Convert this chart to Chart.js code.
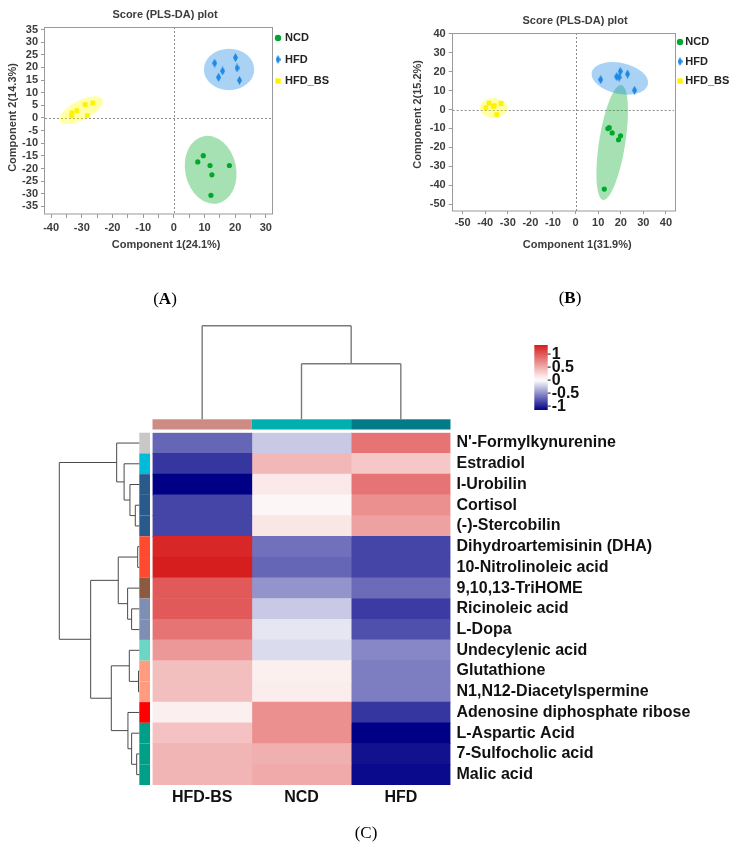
<!DOCTYPE html>
<html><head><meta charset="utf-8">
<script src="https://cdn.jsdelivr.net/npm/chart.js@4.4.1/dist/chart.umd.min.js"></script>
<style>
html,body{margin:0;padding:0;background:#fff;overflow:hidden}
body{width:735px;height:848px;position:relative}
canvas{position:absolute;display:block}
.lab{position:absolute;font-family:"Liberation Serif","Times New Roman",serif;font-size:17px;color:#000;transform:translate(-50%,-50%);white-space:nowrap;line-height:1}
</style></head><body>
<canvas id="cA" width="330" height="256" style="left:0;top:0;width:330px;height:256px"></canvas>
<canvas id="cB" width="340" height="255" style="left:405px;top:0;width:340px;height:255px"></canvas>
<canvas id="cC" width="735" height="588" style="left:0;top:260px;width:735px;height:588px"></canvas>
<div class="lab" style="left:165px;top:298px">(<b>A</b>)</div>
<div class="lab" style="left:570px;top:297px">(<b>B</b>)</div>
<div class="lab" style="left:366px;top:832px">(C)</div>
<script>
// ---------------- DATA ----------------
const groupNames = ['NCD', 'HFD', 'HFD_BS'];

// Panel A scores [component1, component2]
const scoreA_NCD    = [[7.8,-17.4],[9.6,-14.9],[11.8,-18.8],[12.4,-22.5],[18.1,-18.8],[12.1,-30.6]];
const scoreA_HFD    = [[13.3,21.7],[20.1,23.9],[15.9,18.6],[20.6,19.8],[14.6,16.1],[21.4,14.9]];
const scoreA_HFD_BS = [[-33.2,2.0],[-31.6,2.9],[-33.3,0.9],[-28.9,5.3],[-26.4,5.9],[-28.2,0.9]];
// Panel B scores
const scoreB_NCD    = [[14.3,-10.1],[14.9,-9.6],[16.2,-12.4],[19.9,-13.9],[19.0,-16.0],[12.7,-42.1]];
const scoreB_HFD    = [[11.1,15.8],[18.2,17.4],[19.8,20.2],[19.3,17.1],[23.0,18.8],[26.1,10.2]];
const scoreB_HFD_BS = [[-38.3,3.4],[-39.7,1.0],[-36.0,2.0],[-36.4,1.7],[-33.0,3.2],[-34.9,-2.7]];
// 95% confidence ellipses: [centre x, centre y, semi-axis x, semi-axis y, rotation deg]
const ellipseA = [[12.0,-20.5,8.3,13.6,-12],[18.0,19.2,8.2,8.2,0],[-30.2,3.1,7.8,3.8,-27]];
const ellipseB = [[16.2,-17.4,5.8,30.8,9],[19.6,16.5,12.7,8.2,12],[-36.3,0.8,6.05,5.25,0]];

// Panel C heatmap
const metabolites = ["N'-Formylkynurenine","Estradiol","I-Urobilin","Cortisol","(-)-Stercobilin",
  "Dihydroartemisinin (DHA)","10-Nitrolinoleic acid","9,10,13-TriHOME","Ricinoleic acid","L-Dopa",
  "Undecylenic acid","Glutathione","N1,N12-Diacetylspermine","Adenosine diphosphate ribose",
  "L-Aspartic Acid","7-Sulfocholic acid","Malic acid"];
const colGroups = ['HFD-BS', 'NCD', 'HFD'];
const zHFD_BS = [-0.60,-0.79,-1.00,-0.73,-0.73,0.96,1.00,0.74,0.74,0.62,0.46,0.29,0.29,0.07,0.27,0.33,0.33];
const zNCD    = [-0.21,0.32,0.10,0.04,0.11,-0.56,-0.60,-0.42,-0.21,-0.10,-0.14,0.07,0.08,0.50,0.50,0.35,0.38];
const zHFD    = [0.62,0.25,0.62,0.50,0.42,-0.73,-0.73,-0.58,-0.77,-0.69,-0.47,-0.51,-0.51,-0.79,-1.00,-0.93,-0.96];
// hierarchical clustering (negative = leaf number, positive = earlier merge), relative height
const rowMerges = [[-4,-5,0.05],[-3,1,0.117],[-2,2,0.19],[-1,3,0.283],[-6,-7,0.02],[-9,-10,0.096],
  [-8,6,0.146],[5,7,0.263],[-12,-13,0.01],[-11,9,0.125],[-16,-17,0.033],[-15,11,0.096],[-14,12,0.142],
  [10,13,0.35],[8,14,0.608],[4,15,1.0]];
const colMerges = [[-2,-3,0.594],[-1,1,1.0]];
const colorbarTicks = [1, 0.5, 0, -0.5, -1];

// ---------------- STYLE ----------------
Chart.defaults.font.family = '"Liberation Sans", Arial, Helvetica, sans-serif';
const pointColors = ['#00A82D', '#1E88E5', '#FFF200'];
const ellipseFills = ['rgba(0,170,40,0.35)', 'rgba(30,136,229,0.38)', 'rgba(255,255,0,0.35)'];
const rowAnnColors = ['#C8C8C8','#00BCD8','#2A5A8C','#2A5A8C','#2A5A8C','#FF4A30','#FF4A30','#8B5A40',
  '#7F8FB4','#7F8FB4','#6CD6C4','#FF9C80','#FF9C80','#FF0000','#00A088','#00A088','#00A088'];
const colAnnColors = ['#CD8B84', '#00B0B0', '#007B87'];

function diamondImg(w, h, color) {
  const c = document.createElement('canvas'); c.width = w; c.height = h;
  const g = c.getContext('2d'); g.fillStyle = color; g.beginPath();
  g.moveTo(w/2, 0); g.lineTo(w, h/2); g.lineTo(w/2, h); g.lineTo(0, h/2); g.closePath(); g.fill();
  return c;
}
const diamond = diamondImg(5, 9, pointColors[1]);
const pointStyles = ['circle', diamond, 'rect'];
const pointRadii = [2.6, 4, 3.4];
const legendRadii = [3.2, 4, 3.8];

function drawMarker(ctx, style, r, x, y, color) {
  ctx.fillStyle = color;
  if (typeof style === 'object') { ctx.drawImage(style, x - style.width/2, y - style.height/2); return; }
  ctx.beginPath();
  if (style === 'circle') ctx.arc(x, y, r, 0, Math.PI*2);
  else { const s = r * Math.SQRT1_2; ctx.rect(x - s, y - s, 2*s, 2*s); }
  ctx.fill();
}

const scatterDecor = {
  id: 'scatterDecor',
  beforeDatasetsDraw(chart, args, o) {
    const {ctx, chartArea: a, scales: {x, y}} = chart;
    ctx.save();
    ctx.beginPath(); ctx.rect(a.left, a.top, a.right - a.left, a.bottom - a.top); ctx.clip();
    ctx.strokeStyle = '#8c8c8c'; ctx.lineWidth = 1; ctx.setLineDash([2, 2]);
    const x0 = Math.round(x.getPixelForValue(0)) + 0.5, y0 = Math.round(y.getPixelForValue(0)) + 0.5;
    ctx.beginPath(); ctx.moveTo(x0, a.top); ctx.lineTo(x0, a.bottom); ctx.moveTo(a.left, y0); ctx.lineTo(a.right, y0); ctx.stroke();
    ctx.setLineDash([]);
    o.ellipses.forEach((e, i) => {
      const [cx, cy, rx, ry, rot] = e;
      const px = x.getPixelForValue(cx), py = y.getPixelForValue(cy);
      const prx = Math.abs(x.getPixelForValue(cx + rx) - px), pry = Math.abs(y.getPixelForValue(cy + ry) - py);
      ctx.fillStyle = ellipseFills[i];
      ctx.beginPath(); ctx.ellipse(px, py, prx, pry, rot * Math.PI / 180, 0, Math.PI * 2); ctx.fill();
    });
    ctx.restore();
  },
  afterDraw(chart, args, o) {
    const {ctx, chartArea: a} = chart;
    ctx.save();
    ctx.strokeStyle = '#9a9a9a'; ctx.lineWidth = 1;
    ctx.strokeRect(Math.round(a.left) - 0.5, Math.round(a.top) + 0.5, Math.round(a.right - a.left) + 1, Math.round(a.bottom - a.top) - 0.5);
    const L = o.legend;
    ctx.font = 'bold 11px "Liberation Sans", Arial, sans-serif';
    ctx.textBaseline = 'middle'; ctx.textAlign = 'left';
    chart.data.datasets.forEach((ds, i) => {
      const yy = a.top + L.y0 + i * L.dy;
      drawMarker(ctx, ds.pointStyle, legendRadii[i], a.right + L.mx, yy, ds.backgroundColor);
      ctx.fillStyle = '#222';
      ctx.fillText(ds.label, a.right + L.tx, yy);
    });
    ctx.restore();
  }
};

function makeScatter(id, sets, ellipses, c) {
  const axisFont = {size: 11, weight: 'bold'};
  const txt = '#3c3c3c';
  return new Chart(document.getElementById(id), {
    type: 'scatter',
    data: {datasets: sets.map((pts, i) => ({
      label: groupNames[i], data: pts.map(p => ({x: p[0], y: p[1]})),
      backgroundColor: pointColors[i], borderColor: pointColors[i], borderWidth: 0,
      pointStyle: pointStyles[i], pointRadius: pointRadii[i]
    }))},
    options: {
      responsive: false, animation: false, events: [],
      layout: {padding: 0},
      plugins: {
        legend: {display: false}, tooltip: {enabled: false},
        title: {display: true, text: 'Score (PLS-DA) plot', color: txt, font: {size: 11, weight: 'bold'},
                padding: {top: c.titleTop, bottom: c.titleBottom}},
        scatterDecor: {ellipses, legend: c.legend}
      },
      scales: {
        x: {type: 'linear', min: c.xMin, max: c.xMax, border: {display: false},
            grid: {drawOnChartArea: false, tickLength: c.xTl, color: '#9a9a9a'},
            ticks: {stepSize: c.xStep, includeBounds: false, autoSkip: false, maxRotation: 0, padding: c.xPad,
                    color: txt, font: axisFont, callback: v => (v % c.xLabelEvery === 0 ? String(v) : '')},
            title: {display: true, text: '\u00A0'.repeat(c.xShift) + c.xTitle, color: txt, font: axisFont,
                    padding: {top: 0, bottom: c.xTitleBottom}},
            afterFit: s => { s.height = c.xHeight; }},
        y: {type: 'linear', min: c.yMin, max: c.yMax, border: {display: false},
            grid: {drawOnChartArea: false, tickLength: 4, color: '#9a9a9a'},
            ticks: {stepSize: c.yStep, includeBounds: false, autoSkip: false, padding: 3, color: txt, font: axisFont,
                    callback: v => String(v)},
            title: {display: true, text: '\u00A0'.repeat(c.yShift) + c.yTitle, color: txt, font: axisFont,
                    padding: {top: c.yTitlePad, bottom: 0}},
            afterFit: s => { s.width = c.yWidth; }},
        y2: {type: 'linear', position: 'right', display: true, grid: {display: false}, border: {display: false},
             ticks: {display: false}, afterFit: s => { s.width = c.rightSpace; }}
      }
    },
    plugins: [scatterDecor]
  });
}

makeScatter('cA', [scoreA_NCD, scoreA_HFD, scoreA_HFD_BS], ellipseA, {
  titleTop: 8.4, titleBottom: 5.4,
  xMin: -42, xMax: 32, xStep: 5, xLabelEvery: 10, xTl: 4, xPad: 3.5, xHeight: 42, xTitleBottom: 4.4,
  xTitle: 'Component 1(24.1%)', xShift: 5,
  yMin: -38, yMax: 36, yStep: 5, yWidth: 45, yTitle: 'Component 2(14.3%)', yShift: 2, yTitlePad: 6.4,
  rightSpace: 58, legend: {mx: 6, tx: 13, y0: 11, dy: 21.5}
});
makeScatter('cB', [scoreB_NCD, scoreB_HFD, scoreB_HFD_BS], ellipseB, {
  titleTop: 14.4, titleBottom: 5.4,
  xMin: -54.4, xMax: 43.7, xStep: 10, xLabelEvery: 10, xTl: 3, xPad: 2, xHeight: 44, xTitleBottom: 3.9,
  xTitle: 'Component 1(31.9%)', xShift: 9,
  yMin: -53.7, yMax: 40.5, yStep: 10, yWidth: 47.7, yTitle: 'Component 2(15.2%)', yShift: 5, yTitlePad: 6.7,
  rightSpace: 70.7, legend: {mx: 5.7, tx: 11, y0: 9, dy: 19.5}
});

// ---------------- HEATMAP ----------------
const RED = [215, 30, 30], NAVY = [0, 0, 135];
function heatColor(v) {
  const t = Math.max(-1, Math.min(1, v));
  const end = t >= 0 ? RED : NAVY, k = Math.abs(t);
  const c = end.map(e => Math.round(255 + (e - 255) * k));
  return `rgb(${c[0]},${c[1]},${c[2]})`;
}
function drawDendro(ctx, merges, leafPos, hPix, vertical) {
  const nodes = [];
  const get = k => (k < 0 ? {p: leafPos(-k - 1), h: 0} : nodes[k - 1]);
  ctx.beginPath();
  merges.forEach(([m1, m2, h]) => {
    const A = get(m1), B = get(m2), hp = hPix(h);
    [A, B].forEach(N => {
      const s = hPix(N.h);
      if (vertical) { ctx.moveTo(N.p, s); ctx.lineTo(N.p, hp); } else { ctx.moveTo(s, N.p); ctx.lineTo(hp, N.p); }
    });
    if (vertical) { ctx.moveTo(A.p, hp); ctx.lineTo(B.p, hp); } else { ctx.moveTo(hp, A.p); ctx.lineTo(hp, B.p); }
    nodes.push({p: (A.p + B.p) / 2, h});
  });
  ctx.stroke();
}
const heatDecor = {
  id: 'heatDecor',
  afterDatasetsDraw(chart, args, o) {
    const {ctx, chartArea: a, scales: {x, y}} = chart;
    const rowH = (a.bottom - a.top) / metabolites.length;
    ctx.save();
    const annTop = a.top - o.colAnnGap - o.colAnnH;
    colGroups.forEach((g, j) => {
      const l = x.getPixelForValue(j), r = x.getPixelForValue(j + 1);
      ctx.fillStyle = colAnnColors[j]; ctx.fillRect(l, annTop, r - l, o.colAnnH);
    });
    const annLeft = a.left - o.rowAnnGap - o.rowAnnW;
    metabolites.forEach((m, i) => {
      const c = y.getPixelForValue(i);
      ctx.fillStyle = rowAnnColors[i]; ctx.fillRect(annLeft, c - rowH / 2, o.rowAnnW, rowH);
    });
    ctx.strokeStyle = '#4a4a4a'; ctx.lineWidth = 1;
    drawDendro(ctx, rowMerges, i => y.getPixelForValue(i), h => annLeft - h * o.rowDendroW, false);
    ctx.strokeStyle = '#7a7a7a'; ctx.lineWidth = 1.4;
    drawDendro(ctx, colMerges, j => x.getPixelForValue(j + 0.5), h => annTop - h * o.colDendroH, true);
    // colour key
    const cb = o.colorbar;
    const vpix = v => cb.y + (cb.vTop - v) / (cb.vTop - cb.vBottom) * cb.h;
    const grad = ctx.createLinearGradient(0, cb.y, 0, cb.y + cb.h);
    for (let s = 0; s <= 20; s++) {
      const v = cb.vTop - s / 20 * (cb.vTop - cb.vBottom);
      const k = v >= 0 ? v / cb.vTop : v / Math.abs(cb.vBottom);
      grad.addColorStop(s / 20, heatColor(k));
    }
    ctx.fillStyle = grad; ctx.fillRect(cb.x, cb.y, cb.w, cb.h);
    ctx.font = 'bold 16px "Liberation Sans", Arial, sans-serif';
    ctx.textBaseline = 'middle'; ctx.textAlign = 'left';
    ctx.strokeStyle = '#111'; ctx.lineWidth = 1; ctx.fillStyle = '#111';
    colorbarTicks.forEach(v => {
      const yy = vpix(v);
      ctx.beginPath(); ctx.moveTo(cb.x + cb.w, yy); ctx.lineTo(cb.x + cb.w + 3, yy); ctx.stroke();
      ctx.fillText(String(v), cb.x + cb.w + 4, yy);
    });
    ctx.restore();
  }
};
const zCols = [zHFD_BS, zNCD, zHFD];
new Chart(document.getElementById('cC'), {
  type: 'bar',
  data: {labels: metabolites, datasets: colGroups.map((g, j) => ({
    label: g, data: metabolites.map(() => 1), backgroundColor: zCols[j].map(heatColor),
    borderWidth: 0, barPercentage: 1, categoryPercentage: 1
  }))},
  options: {
    indexAxis: 'y', responsive: false, animation: false, events: [],
    layout: {padding: {left: 152.5, top: 172.7, right: 0, bottom: 0}},
    plugins: {
      legend: {display: false}, tooltip: {enabled: false},
      heatDecor: {colAnnGap: 3.2, colAnnH: 10.2, rowAnnGap: 2.5, rowAnnW: 10.7, rowDendroW: 80, colDendroH: 93.6,
                  colorbar: {x: 534.3, y: 85, w: 13.4, h: 65, vTop: 1.35, vBottom: -1.15}}
    },
    scales: {
      x: {type: 'linear', stacked: true, min: 0, max: 3, grid: {display: false, drawTicks: false}, border: {display: false},
          afterBuildTicks: s => { s.ticks = colGroups.map((g, i) => ({value: i + 0.5})); },
          ticks: {autoSkip: false, maxRotation: 0, padding: 3, color: '#111', font: {size: 16, weight: 'bold'},
                  callback: (v, i) => colGroups[i]},
          afterFit: s => { s.height = 63; }},
      y: {type: 'category', position: 'right', stacked: true, grid: {display: false, drawTicks: false}, border: {display: false},
          ticks: {autoSkip: false, padding: 6, color: '#111', font: {size: 16, weight: 'bold'}},
          afterFit: s => { s.width = 284.5; }}
    }
  },
  plugins: [heatDecor]
});
</script>
</body></html>
